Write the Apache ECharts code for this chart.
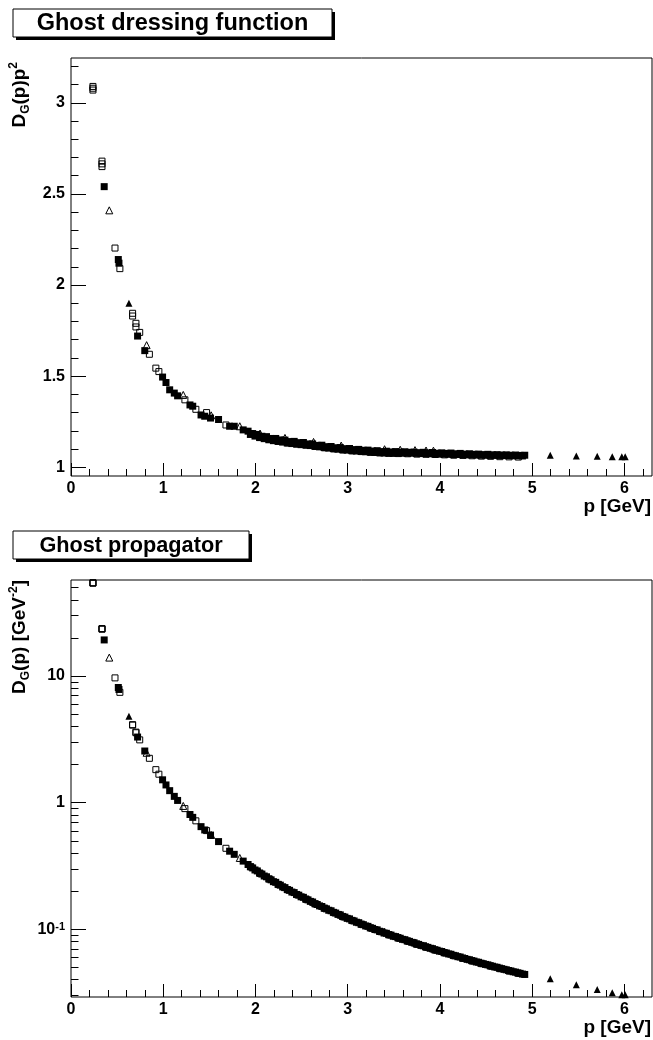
<!DOCTYPE html>
<html>
<head>
<meta charset="utf-8">
<title>Ghost dressing function / Ghost propagator</title>
<script src="https://cdn.jsdelivr.net/npm/echarts@6/dist/echarts.min.js"></script>
<style>
  html, body { margin: 0; padding: 0; background: #fff; }
  #chart { width: 653px; height: 1040px; }
</style>
</head>
<body>
<div id="chart"></div>
<script>
// momenta p [GeV], dressing D_G(p)p^2 and propagator D_G(p) [GeV^-2], one set per marker style

// open squares
const pOpenSquare = [0.238, 0.238, 0.238, 0.336, 0.336, 0.336, 0.477, 0.53, 0.668, 0.668,
  0.704, 0.704, 0.745, 0.85, 0.92, 0.953, 1.235, 1.354, 1.47, 1.68,
  1.95, 2.05, 2.15, 2.25, 2.35, 2.45, 2.55, 2.65, 2.75, 2.85,
  2.95, 3.05, 3.15, 3.25, 3.35, 3.45, 3.55, 3.65, 3.75, 3.85,
  3.95, 4.05, 4.15, 4.25, 4.35, 4.45, 4.55, 4.65, 4.75, 4.85];
const dressOpenSquare = [3.07, 3.08, 3.09, 2.65, 2.665, 2.68, 2.203, 2.09, 1.845, 1.83,
  1.79, 1.77, 1.74, 1.62, 1.544, 1.525, 1.37, 1.318, 1.30, 1.232,
  1.185, 1.163, 1.152, 1.142, 1.134, 1.128, 1.121, 1.114, 1.107, 1.101,
  1.095, 1.090, 1.086, 1.082, 1.079, 1.077, 1.075, 1.074, 1.072, 1.071,
  1.070, 1.068, 1.066, 1.065, 1.063, 1.061, 1.060, 1.058, 1.057, 1.056];
const propOpenSquare = [54.2, 54.4, 54.6, 23.47, 23.6, 23.74, 9.68, 7.44, 4.135, 4.10,
  3.61, 3.57, 3.135, 2.242, 1.824, 1.679, 0.898, 0.719, 0.602, 0.4365,
  0.3116, 0.2767, 0.2492, 0.2256, 0.2053, 0.1879, 0.1724, 0.1586, 0.1464, 0.1355,
  0.1258, 0.1172, 0.1094, 0.1024, 0.0961, 0.0905, 0.0853, 0.0806, 0.0762, 0.0723,
  0.0686, 0.0651, 0.0619, 0.0590, 0.0562, 0.0536, 0.0512, 0.0489, 0.0468, 0.0449];

// filled squares, first lattice
const pFilledSquare = [0.36, 0.513, 0.52, 0.722, 0.80, 0.993, 1.03, 1.07, 1.12, 1.156,
  1.29, 1.32, 1.41, 1.45, 1.513, 1.6, 1.72, 1.77, 1.867,
  1.92, 1.97, 2.02, 2.07, 2.12, 2.17, 2.22, 2.27, 2.32, 2.37,
  2.42, 2.47, 2.52, 2.57, 2.62, 2.67, 2.72, 2.77, 2.82, 2.87,
  2.92, 2.97, 3.02, 3.07, 3.12, 3.17, 3.22, 3.27, 3.32, 3.37,
  3.42, 3.47, 3.52, 3.57, 3.62, 3.67, 3.72, 3.77, 3.82, 3.87,
  3.92, 3.97, 4.02, 4.07, 4.12, 4.17, 4.22, 4.27, 4.32, 4.37,
  4.42, 4.47, 4.52, 4.57, 4.62, 4.67, 4.72, 4.77, 4.82, 4.87, 4.92];
const dressFilledSquare = [2.54, 2.14, 2.12, 1.72, 1.64, 1.495, 1.465, 1.425, 1.407, 1.392,
  1.342, 1.335, 1.287, 1.28, 1.27, 1.262, 1.225, 1.225, 1.205,
  1.198, 1.185, 1.180, 1.170, 1.168, 1.158, 1.158, 1.150, 1.149, 1.141,
  1.142, 1.135, 1.136, 1.128, 1.128, 1.120, 1.121, 1.113, 1.114, 1.107,
  1.108, 1.102, 1.103, 1.097, 1.098, 1.093, 1.094, 1.089, 1.091, 1.086,
  1.088, 1.084, 1.086, 1.083, 1.085, 1.082, 1.083, 1.080, 1.082, 1.079,
  1.081, 1.077, 1.079, 1.076, 1.078, 1.074, 1.076, 1.072, 1.074, 1.071,
  1.072, 1.069, 1.071, 1.068, 1.069, 1.067, 1.068, 1.066, 1.067, 1.065, 1.066];
const propFilledSquare = [19.3, 8.13, 7.84, 3.30, 2.56, 1.516, 1.381, 1.245, 1.122, 1.042,
  0.8065, 0.766, 0.647, 0.609, 0.555, 0.493, 0.414, 0.391, 0.3457,
  0.3250, 0.3053, 0.2892, 0.2731, 0.2599, 0.2459, 0.2350, 0.2232, 0.2135, 0.2031,
  0.1950, 0.1860, 0.1789, 0.1708, 0.1643, 0.1571, 0.1515, 0.1451, 0.1401, 0.1344,
  0.1300, 0.1249, 0.1209, 0.1164, 0.1128, 0.1088, 0.1055, 0.1018, 0.0990, 0.0956,
  0.0930, 0.0900, 0.0876, 0.0850, 0.0828, 0.0803, 0.0783, 0.0760, 0.0741, 0.0720,
  0.0703, 0.0683, 0.0668, 0.0650, 0.0635, 0.0618, 0.0604, 0.0588, 0.0575, 0.0561,
  0.0549, 0.0535, 0.0524, 0.0511, 0.0501, 0.0489, 0.0479, 0.0469, 0.0459, 0.0449, 0.0440];

// filled squares, second lattice (lower edge of the band)
const pFilledSquareB = [1.945, 1.995, 2.045, 2.095, 2.145, 2.195, 2.245, 2.295, 2.345, 2.395,
  2.445, 2.495, 2.545, 2.595, 2.645, 2.695, 2.745, 2.795, 2.845, 2.895,
  2.945, 2.995, 3.045, 3.095, 3.145, 3.195, 3.245, 3.295, 3.345, 3.395,
  3.445, 3.495, 3.545, 3.595, 3.645, 3.695, 3.745, 3.795, 3.845, 3.895,
  3.945, 3.995, 4.045, 4.095, 4.145, 4.195, 4.245, 4.295, 4.345, 4.395,
  4.445, 4.495, 4.545, 4.595, 4.645, 4.695, 4.745, 4.795, 4.845, 4.895];
const dressFilledSquareB = [1.180, 1.171, 1.163, 1.157, 1.151, 1.146, 1.142, 1.138, 1.133, 1.130,
  1.127, 1.124, 1.123, 1.119, 1.115, 1.112, 1.108, 1.105, 1.102, 1.099,
  1.096, 1.094, 1.091, 1.089, 1.087, 1.085, 1.083, 1.081, 1.080, 1.078,
  1.077, 1.076, 1.077, 1.077, 1.077, 1.077, 1.076, 1.075, 1.075, 1.074,
  1.073, 1.072, 1.072, 1.071, 1.070, 1.070, 1.069, 1.068, 1.068, 1.067,
  1.066, 1.066, 1.065, 1.065, 1.065, 1.064, 1.064, 1.063, 1.063, 1.062];
const propFilledSquareB = [0.3119, 0.2942, 0.2781, 0.2636, 0.2502, 0.2379, 0.2266, 0.2161, 0.2060, 0.1970,
  0.1885, 0.1806, 0.1734, 0.1662, 0.1594, 0.1531, 0.1470, 0.1414, 0.1362, 0.1311,
  0.1264, 0.1220, 0.1177, 0.1137, 0.1099, 0.1063, 0.1028, 0.0996, 0.0965, 0.0935,
  0.0907, 0.0881, 0.0857, 0.0833, 0.0811, 0.0789, 0.0767, 0.0746, 0.0727, 0.0708,
  0.0689, 0.0672, 0.0655, 0.0639, 0.0623, 0.0608, 0.0593, 0.0579, 0.0566, 0.0552,
  0.0540, 0.0528, 0.0516, 0.0504, 0.0494, 0.0483, 0.0473, 0.0462, 0.0453, 0.0443];

// open triangles
const pOpenTriangle = [0.415, 0.82, 1.217, 1.52, 1.83, 2.05, 2.32, 2.63, 2.93, 3.40, 3.57, 3.73, 3.85, 3.93];
const dressOpenTriangle = [2.41, 1.67, 1.397, 1.285, 1.225, 1.185, 1.161, 1.139, 1.119, 1.099, 1.096, 1.094, 1.092, 1.091];
const propOpenTriangle = [14.0, 2.48, 0.943, 0.556, 0.366, 0.282, 0.2157, 0.1647, 0.1303, 0.0951, 0.0860, 0.0786, 0.0737, 0.0706];

// filled triangles
const pFilledTriangle = [0.628, 5.197, 5.479, 5.706, 5.869, 5.973, 6.009];
const dressFilledTriangle = [1.90, 1.066, 1.062, 1.060, 1.058, 1.058, 1.058];
const propFilledTriangle = [4.82, 0.0407, 0.0365, 0.0335, 0.0315, 0.0304, 0.0304];

// axis ticks
const xTicks = [0, 1, 2, 3, 4, 5, 6];
const dressTicks = [1, 1.5, 2, 2.5, 3];
const propTicks = [0.1, 1, 10];
const propMinorTicks = [0.03, 0.04, 0.05, 0.06, 0.07, 0.08, 0.09,
  0.2, 0.3, 0.4, 0.5, 0.6, 0.7, 0.8, 0.9,
  2, 3, 4, 5, 6, 7, 8, 9, 20, 30, 40, 50];

const FONT = '"Liberation Sans", Arial, Helvetica, sans-serif';

function pairs(p, v) {
  return p.map((x, i) => [x, v[i]]);
}

function steps(from, to, step) {
  let out = [];
  for (let v = from; v <= to + 1e-9; v += step) out.push(Math.round(v * 100) / 100);
  return out;
}

const xMinorTicks = steps(0, 6.2, 0.2);
const dressMinorTicks = steps(1, 3.2, 0.1);

const labelStyle = { color: '#000', fontSize: 16, fontWeight: 'bold', fontFamily: FONT };

function tickAxis(extra, ticks, length, labels) {
  return Object.assign({
    axisLine: { show: false },
    splitLine: { show: false },
    axisTick: { inside: true, length: length, customValues: ticks, lineStyle: { color: '#000', width: 1 } },
    axisLabel: labels ? Object.assign({ customValues: ticks }, labels) : { show: false }
  }, extra);
}

function xAxesFor(grid) {
  return [
    tickAxis({ type: 'value', gridIndex: grid, min: 0, max: 6.3, position: 'bottom' }, xTicks, 13,
      Object.assign({ margin: 5 }, labelStyle)),
    tickAxis({ type: 'value', gridIndex: grid, min: 0, max: 6.3, position: 'bottom' }, xMinorTicks, 7, null)
  ];
}

function markerSeries(name, data, yIdx, symbol, size, filled) {
  return {
    name: name,
    type: 'scatter',
    xAxisIndex: yIdx,
    yAxisIndex: yIdx,
    data: data,
    symbol: symbol,
    symbolSize: size,
    silent: true,
    itemStyle: filled
      ? { color: '#000', opacity: 1 }
      : { color: 'rgba(0,0,0,0)', borderColor: '#000', borderWidth: 1, opacity: 1 }
  };
}

// both panels show the same four marker styles
function panelSeries(idx, dOpenSq, dOpenTri, dFilledSq, dFilledSqB, dFilledTri) {
  return [
    markerSeries('open squares', pairs(pOpenSquare, dOpenSq), idx, 'rect', 6, false),
    markerSeries('open triangles', pairs(pOpenTriangle, dOpenTri), idx, 'triangle', 7, false),
    markerSeries('filled squares', pairs(pFilledSquareB, dFilledSqB), idx, 'rect', 7, true),
    markerSeries('filled squares', pairs(pFilledSquare, dFilledSq), idx, 'rect', 7, true),
    markerSeries('filled triangles', pairs(pFilledTriangle, dFilledTri), idx, 'triangle', 7, true)
  ];
}

function titleBox(x, y, w, h, text, size) {
  return [
    { type: 'rect', shape: { x: x + 3, y: y + 3, width: w, height: h }, style: { fill: '#000' } },
    { type: 'rect', shape: { x: x, y: y, width: w, height: h }, style: { fill: '#fff', stroke: '#000', lineWidth: 1 } },
    { type: 'text', x: x + w / 2, y: y + h / 2 + 1,
      style: { text: text, fill: '#000', fontSize: size, fontWeight: 'bold', fontFamily: FONT, align: 'center', verticalAlign: 'middle' } }
  ];
}

const richTitle = {
  sub: { fontSize: 12, fontWeight: 'bold', fontFamily: FONT, fill: '#000', verticalAlign: 'bottom', lineHeight: 12 },
  sup: { fontSize: 12, fontWeight: 'bold', fontFamily: FONT, fill: '#000', verticalAlign: 'top', lineHeight: 12 }
};

function axisTitle(x, y, text, rotate) {
  return {
    type: 'text', x: x, y: y, rotation: rotate ? Math.PI / 2 : 0,
    style: {
      text: text, fill: '#000', fontSize: 19, fontWeight: 'bold', fontFamily: FONT,
      align: 'right', verticalAlign: 'middle', lineHeight: 24, rich: richTitle
    }
  };
}

const chart = echarts.init(document.getElementById('chart'), null, { renderer: 'canvas' });

chart.setOption({
  animation: false,
  backgroundColor: '#fff',
  textStyle: { fontFamily: FONT, fontWeight: 'bold', color: '#000' },
  grid: [
    { left: 71, right: 1, top: 58, bottom: 564, show: true, borderColor: '#000', borderWidth: 1, backgroundColor: 'transparent' },
    { left: 71, right: 1, top: 580, bottom: 43, show: true, borderColor: '#000', borderWidth: 1, backgroundColor: 'transparent' }
  ],
  xAxis: xAxesFor(0).concat(xAxesFor(1)),
  yAxis: [
    tickAxis({ type: 'value', gridIndex: 0, min: 0.952, max: 3.246, position: 'left' }, dressTicks, 15,
      Object.assign({ margin: 6, formatter: v => String(v) }, labelStyle)),
    tickAxis({ type: 'value', gridIndex: 0, min: 0.952, max: 3.246, position: 'left' }, dressMinorTicks, 7.5, null),
    tickAxis({ type: 'log', logBase: 10, gridIndex: 1, min: 0.0292, max: 57.4, position: 'left' }, propTicks, 15,
      Object.assign({
        margin: 6,
        formatter: v => (Math.abs(v - 0.1) < 1e-9 ? '10{s|-1}' : String(Math.round(v))),
        rich: { s: { fontSize: 11, fontWeight: 'bold', fontFamily: FONT, color: '#000', verticalAlign: 'top', lineHeight: 11 } }
      }, labelStyle)),
    tickAxis({ type: 'log', logBase: 10, gridIndex: 1, min: 0.0292, max: 57.4, position: 'left' }, propMinorTicks, 7.5, null)
  ],
  series: [].concat(
    panelSeries(0, dressOpenSquare, dressOpenTriangle, dressFilledSquare, dressFilledSquareB, dressFilledTriangle),
    panelSeries(2, propOpenSquare, propOpenTriangle, propFilledSquare, propFilledSquareB, propFilledTriangle)
  ),
  graphic: [].concat(
    titleBox(13, 9, 319, 28, 'Ghost dressing function', 23.5),
    titleBox(13, 531, 236, 28, 'Ghost propagator', 21.7),
    [
      axisTitle(20, 62, 'D{sub|G}(p)p{sup|2}', true),
      axisTitle(20, 580, 'D{sub|G}(p) [GeV{sup|-2}]', true),
      axisTitle(651, 507, 'p [GeV]', false),
      axisTitle(651, 1028, 'p [GeV]', false)
    ]
  )
});
</script>
</body>
</html>
